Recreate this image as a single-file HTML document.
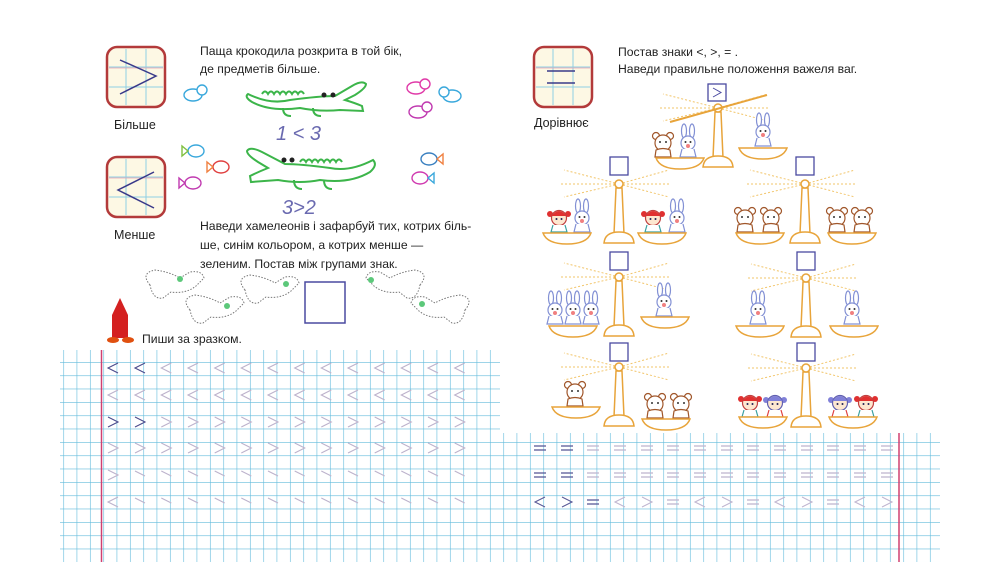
<!DOCTYPE html>
<html><head><meta charset="utf-8"><style>
html,body{margin:0;padding:0;background:#fff;}
svg{display:block;}
text{font-family:"Liberation Sans",sans-serif;}
</style></head><body>
<svg width="1000" height="562" viewBox="0 0 1000 562" xmlns="http://www.w3.org/2000/svg">
<defs>
<pattern id="grid" patternUnits="userSpaceOnUse" x="63.3" y="362" width="13.333" height="13.333">
<path d="M0,0 V13.333 M0,0 H13.333" stroke="#62bbdb" stroke-width="1.2" fill="none"/>
</pattern>
<clipPath id="gclip"><path d="M60,350 H500 V433 H940 V562 H60 Z"/></clipPath>
<g id="scale">
<line x1="0" y1="0" x2="-55" y2="-14" stroke="#f2c56a" stroke-width="1" stroke-dasharray="2,2"/>
<line x1="0" y1="0" x2="-58" y2="0" stroke="#f2c56a" stroke-width="1" stroke-dasharray="2,2"/>
<line x1="0" y1="0" x2="-55" y2="13" stroke="#f2c56a" stroke-width="1" stroke-dasharray="2,2"/>
<line x1="0" y1="0" x2="50" y2="-14" stroke="#f2c56a" stroke-width="1" stroke-dasharray="2,2"/>
<line x1="0" y1="0" x2="50" y2="0" stroke="#f2c56a" stroke-width="1" stroke-dasharray="2,2"/>
<line x1="0" y1="0" x2="50" y2="13" stroke="#f2c56a" stroke-width="1" stroke-dasharray="2,2"/>
<path d="M-3,4 L-5,50 L5,50 L3,4 Z" fill="#fff" stroke="#e8a43a" stroke-width="1.5"/>
<path d="M-15,59 Q-14,48 0,48 Q14,48 15,59 Z" fill="#fff" stroke="#e8a43a" stroke-width="1.5"/>
<circle cx="0" cy="0" r="4" fill="#fff" stroke="#e8a43a" stroke-width="1.5"/>
</g>
<path id="pan" d="M-24,0 H24 Q20,11 0,11 Q-20,11 -24,0 Z" fill="#fff" stroke="#e8a43a" stroke-width="1.5"/>
<g id="bear" fill="#fff" stroke="#a0562a" stroke-width="1.2">
<circle cx="-7" cy="-7" r="3.5"/><circle cx="7" cy="-7" r="3.5"/>
<circle cx="0" cy="0" r="8"/><path d="M-7,7 Q0,4 7,7 L8,14 H-8 Z"/>
<circle cx="-3" cy="-1" r="1" fill="#333" stroke="none"/><circle cx="3" cy="-1" r="1" fill="#333" stroke="none"/>
</g>
<g id="bunny" fill="#fff" stroke="#8290d4" stroke-width="1.2">
<ellipse cx="-4" cy="-12" rx="2.5" ry="7"/><ellipse cx="4" cy="-12" rx="2.5" ry="7"/>
<circle cx="0" cy="0" r="7"/><path d="M-6,6 L-8,14 H8 L6,6"/>
<circle cx="0" cy="3" r="2" fill="#f08080" stroke="none"/>
<circle cx="-2.5" cy="-1" r="1" fill="#333" stroke="none"/><circle cx="2.5" cy="-1" r="1" fill="#333" stroke="none"/>
</g>
<g id="girl" stroke-width="1.2">
<circle cx="-9" cy="-4" r="3" fill="#e03030"/><circle cx="9" cy="-4" r="3" fill="#e03030"/>
<circle cx="0" cy="0" r="7.5" fill="#fde7d0" stroke="#c04040"/>
<path d="M-7.5,-2 Q0,-12 7.5,-2" fill="#e03030"/>
<path d="M-6,7 L-8,14 H8 L6,7" fill="#fff" stroke="#3aa0a0"/>
<circle cx="-2.5" cy="1" r="1" fill="#225"/><circle cx="2.5" cy="1" r="1" fill="#225"/>
</g>
<g id="girlb" stroke-width="1.2">
<circle cx="-9" cy="-3" r="3" fill="#8080d8"/><circle cx="9" cy="-3" r="3" fill="#8080d8"/>
<circle cx="0" cy="0" r="7.5" fill="#fde7d0" stroke="#6060b0"/>
<path d="M-7.5,-2 Q0,-12 7.5,-2" fill="#8080d8"/>
<path d="M-6,7 L-8,14 H8 L6,7" fill="#fff" stroke="#e04040"/>
<circle cx="-2.5" cy="1" r="1" fill="#225"/><circle cx="2.5" cy="1" r="1" fill="#225"/>
</g>
<g id="lt"><polyline points="5,-5 -5,0 5,5" fill="none" stroke-width="1.1"/></g>
<g id="gt"><polyline points="-5,-5 5,0 -5,5" fill="none" stroke-width="1.1"/></g>
<g id="half"><line x1="-5" y1="-4" x2="5" y2="1" stroke-width="1.1"/></g>
<g id="eq"><line x1="-6" y1="-2" x2="6" y2="-2" stroke-width="1.3"/><line x1="-6" y1="2" x2="6" y2="2" stroke-width="1.3"/></g>
<g id="iconbg">
<rect x="0" y="0" width="58" height="60" rx="10" fill="#fdf8e4" stroke="#b33a3a" stroke-width="2.5"/>
<path d="M19,2 V58 M39,2 V58 M2,20 H56 M2,40 H56" stroke="#8fcfe4" stroke-width="1"/>
<path d="M2,21 H56" stroke="#e8a0b0" stroke-width="0.8"/>
</g>
</defs>

<rect x="60" y="350" width="880" height="212" fill="url(#grid)" clip-path="url(#gclip)"/>
<line x1="101.5" y1="350" x2="101.5" y2="562" stroke="#d04070" stroke-width="1.5"/>
<line x1="899" y1="433" x2="899" y2="562" stroke="#d04070" stroke-width="1.5"/>

<g stroke="#4a4a8c"><use href="#lt" x="113" y="368"/><use href="#lt" x="140" y="368"/><use href="#gt" x="113" y="422"/><use href="#gt" x="140" y="422"/></g>
<g stroke="#bdb2cc">
<use href="#lt" x="166.3" y="368"/><use href="#lt" x="193" y="368"/><use href="#lt" x="219.7" y="368"/><use href="#lt" x="246.3" y="368"/><use href="#lt" x="273" y="368"/><use href="#lt" x="299.7" y="368"/><use href="#lt" x="326.3" y="368"/><use href="#lt" x="353" y="368"/><use href="#lt" x="379.7" y="368"/><use href="#lt" x="406.3" y="368"/><use href="#lt" x="433" y="368"/><use href="#lt" x="459.7" y="368"/>
<use href="#lt" x="113" y="395"/><use href="#lt" x="140" y="395"/><use href="#lt" x="166.3" y="395"/><use href="#lt" x="193" y="395"/><use href="#lt" x="219.7" y="395"/><use href="#lt" x="246.3" y="395"/><use href="#lt" x="273" y="395"/><use href="#lt" x="299.7" y="395"/><use href="#lt" x="326.3" y="395"/><use href="#lt" x="353" y="395"/><use href="#lt" x="379.7" y="395"/><use href="#lt" x="406.3" y="395"/><use href="#lt" x="433" y="395"/><use href="#lt" x="459.7" y="395"/>
<use href="#gt" x="166.3" y="422"/><use href="#gt" x="193" y="422"/><use href="#gt" x="219.7" y="422"/><use href="#gt" x="246.3" y="422"/><use href="#gt" x="273" y="422"/><use href="#gt" x="299.7" y="422"/><use href="#gt" x="326.3" y="422"/><use href="#gt" x="353" y="422"/><use href="#gt" x="379.7" y="422"/><use href="#gt" x="406.3" y="422"/><use href="#gt" x="433" y="422"/><use href="#gt" x="459.7" y="422"/>
<use href="#gt" x="113" y="448"/><use href="#gt" x="140" y="448"/><use href="#gt" x="166.3" y="448"/><use href="#gt" x="193" y="448"/><use href="#gt" x="219.7" y="448"/><use href="#gt" x="246.3" y="448"/><use href="#gt" x="273" y="448"/><use href="#gt" x="299.7" y="448"/><use href="#gt" x="326.3" y="448"/><use href="#gt" x="353" y="448"/><use href="#gt" x="379.7" y="448"/><use href="#gt" x="406.3" y="448"/><use href="#gt" x="433" y="448"/><use href="#gt" x="459.7" y="448"/>
<use href="#gt" x="113" y="475"/><use href="#half" x="140" y="475"/><use href="#half" x="166.3" y="475"/><use href="#half" x="193" y="475"/><use href="#half" x="219.7" y="475"/><use href="#half" x="246.3" y="475"/><use href="#half" x="273" y="475"/><use href="#half" x="299.7" y="475"/><use href="#half" x="326.3" y="475"/><use href="#half" x="353" y="475"/><use href="#half" x="379.7" y="475"/><use href="#half" x="406.3" y="475"/><use href="#half" x="433" y="475"/><use href="#half" x="459.7" y="475"/>
<use href="#lt" x="113" y="502"/><use href="#half" x="140" y="502"/><use href="#half" x="166.3" y="502"/><use href="#half" x="193" y="502"/><use href="#half" x="219.7" y="502"/><use href="#half" x="246.3" y="502"/><use href="#half" x="273" y="502"/><use href="#half" x="299.7" y="502"/><use href="#half" x="326.3" y="502"/><use href="#half" x="353" y="502"/><use href="#half" x="379.7" y="502"/><use href="#half" x="406.3" y="502"/><use href="#half" x="433" y="502"/><use href="#half" x="459.7" y="502"/>
</g>

<g stroke="#5a5a98"><use href="#eq" x="540" y="448"/><use href="#eq" x="567" y="448"/><use href="#eq" x="540" y="475"/><use href="#eq" x="567" y="475"/><use href="#lt" x="540" y="502"/><use href="#gt" x="567" y="502"/><use href="#eq" x="593" y="502"/></g>
<g stroke="#c0b6d0">
<use href="#eq" x="593" y="448"/><use href="#eq" x="620" y="448"/><use href="#eq" x="647" y="448"/><use href="#eq" x="673" y="448"/><use href="#eq" x="700" y="448"/><use href="#eq" x="727" y="448"/><use href="#eq" x="753" y="448"/><use href="#eq" x="780" y="448"/><use href="#eq" x="807" y="448"/><use href="#eq" x="833" y="448"/><use href="#eq" x="860" y="448"/><use href="#eq" x="887" y="448"/>
<use href="#eq" x="593" y="475"/><use href="#eq" x="620" y="475"/><use href="#eq" x="647" y="475"/><use href="#eq" x="673" y="475"/><use href="#eq" x="700" y="475"/><use href="#eq" x="727" y="475"/><use href="#eq" x="753" y="475"/><use href="#eq" x="780" y="475"/><use href="#eq" x="807" y="475"/><use href="#eq" x="833" y="475"/><use href="#eq" x="860" y="475"/><use href="#eq" x="887" y="475"/>
<use href="#lt" x="620" y="502"/><use href="#gt" x="647" y="502"/><use href="#eq" x="673" y="502"/><use href="#lt" x="700" y="502"/><use href="#gt" x="727" y="502"/><use href="#eq" x="753" y="502"/><use href="#lt" x="780" y="502"/><use href="#gt" x="807" y="502"/><use href="#eq" x="833" y="502"/><use href="#lt" x="860" y="502"/><use href="#gt" x="887" y="502"/>
</g>

<use href="#iconbg" x="107" y="47"/>
<polyline points="120,60 156,76 120,94" fill="none" stroke="#3a3a8a" stroke-width="1.5"/>
<text x="114" y="129" font-size="12.5" fill="#222">Більше</text>
<use href="#iconbg" x="107" y="157"/>
<polyline points="154,172 118,190 154,208" fill="none" stroke="#3a3a8a" stroke-width="1.5"/>
<text x="114" y="239" font-size="12.5" fill="#222">Менше</text>
<use href="#iconbg" x="534" y="47"/>
<line x1="547" y1="71" x2="575" y2="71" stroke="#3a3a8a" stroke-width="1.5"/>
<line x1="547" y1="83" x2="575" y2="83" stroke="#3a3a8a" stroke-width="1.5"/>
<text x="534" y="127" font-size="12.5" fill="#222">Дорівнює</text>

<g font-size="12.2" fill="#222">
<text x="200" y="55">Паща крокодила розкрита в той бік,</text>
<text x="200" y="73">де предметів більше.</text>
<text x="200" y="230">Наведи хамелеонів і зафарбуй тих, котрих біль-</text>
<text x="200" y="249">ше, синім кольором, а котрих менше —</text>
<text x="200" y="268">зеленим. Постав між групами знак.</text>
<text x="142" y="343">Пиши за зразком.</text>
<text x="618" y="56">Постав знаки &lt;, &gt;, = .</text>
<text x="618" y="73">Наведи правильне положення важеля ваг.</text>
</g>

<g fill="none" stroke="#3cb54a" stroke-width="2">
<path d="M248,94 Q270,105 290,100 Q320,96 335,96 L352,86 Q362,80 366,84 Q366,88 355,95 L345,100 Q355,103 362,106 L363,111 L340,110 Q320,112 300,108 Q270,112 252,102 Q244,97 248,94 Z"/>
<path d="M262,94 q3,-5 6,0 q3,-5 6,0 q3,-5 6,0 q3,-5 6,0 q3,-5 6,0 q3,-5 6,0 q3,-5 6,0"/>
<path d="M283,108 q0,8 8,8 M313,108 q0,8 8,8"/>
<path d="M373,160 Q350,172 330,168 Q300,164 285,164 L262,152 Q250,146 247,151 Q247,155 258,162 L268,168 Q258,172 250,176 L251,182 L278,180 Q300,184 320,180 Q350,184 370,172 Q378,165 373,160 Z"/>
<path d="M300,162 q3,-5 6,0 q3,-5 6,0 q3,-5 6,0 q3,-5 6,0 q3,-5 6,0 q3,-5 6,0 q3,-5 6,0"/>
<path d="M294,180 q0,9 8,9 M324,180 q0,9 8,9"/>
</g>
<g fill="#222"><circle cx="324" cy="95" r="2.5"/><circle cx="333" cy="95" r="2.5"/><circle cx="284" cy="160" r="2.5"/><circle cx="292" cy="160" r="2.5"/></g>
<text x="276" y="140" font-size="20" fill="#6a6ab0" font-style="italic">1 &lt; 3</text>
<text x="282" y="214" font-size="20" fill="#6a6ab0" font-style="italic">3&gt;2</text>

<g fill="#fff" stroke-width="1.4">
<g stroke="#3aa8dc"><ellipse cx="193" cy="95" rx="9" ry="6"/><circle cx="202" cy="90" r="5"/></g>
<g stroke="#e03aa8"><ellipse cx="416" cy="88" rx="9" ry="6"/><circle cx="425" cy="84" r="5"/></g>
<g stroke="#3aa8dc"><ellipse cx="452" cy="96" rx="9" ry="6"/><circle cx="444" cy="92" r="5"/></g>
<g stroke="#c03ab0"><ellipse cx="418" cy="112" rx="9" ry="6"/><circle cx="427" cy="107" r="5"/></g>
</g>
<g fill="#fff" stroke-width="1.4">
<g stroke="#3aa8dc"><ellipse cx="196" cy="151" rx="8" ry="6"/><path d="M188,151 l-6,-5 v10 z" stroke="#80c040"/></g>
<g stroke="#e04040"><ellipse cx="221" cy="167" rx="8" ry="6"/><path d="M213,167 l-6,-5 v10 z" stroke="#f08040"/></g>
<g stroke="#c03ab0"><ellipse cx="193" cy="183" rx="8" ry="6"/><path d="M185,183 l-6,-5 v10 z"/></g>
<g stroke="#3a80c0"><ellipse cx="429" cy="159" rx="8" ry="6"/><path d="M437,159 l6,-5 v10 z" stroke="#f08040"/></g>
<g stroke="#d03ab0"><ellipse cx="420" cy="178" rx="8" ry="6"/><path d="M428,178 l6,-5 v10 z" stroke="#3aa8dc"/></g>
</g>

<g fill="none" stroke="#777" stroke-width="1" stroke-dasharray="1.5,1.5">
<path d="M150,285 q-10,-12 5,-15 q15,2 25,8 l10,-6 q12,-2 14,6 l-8,8 q-10,8 -25,6 l-8,6 q-10,2 -13,-13z"/>
<path d="M190,310 q-10,-12 5,-15 q15,2 25,8 l10,-6 q12,-2 14,6 l-8,8 q-10,8 -25,6 l-8,6 q-10,2 -13,-13z"/>
<path d="M245,290 q-10,-12 5,-15 q15,2 25,8 l10,-6 q12,-2 14,6 l-8,8 q-10,8 -25,6 l-8,6 q-10,2 -13,-13z"/>
<path d="M420,285 q10,-12 -5,-15 q-15,2 -25,8 l-10,-6 q-12,-2 -14,6 l8,8 q10,8 25,6 l8,6 q10,2 13,-13z"/>
<path d="M465,310 q10,-12 -5,-15 q-15,2 -25,8 l-10,-6 q-12,-2 -14,6 l8,8 q10,8 25,6 l8,6 q10,2 13,-13z"/>
</g>
<g fill="#5cc87a"><circle cx="180" cy="279" r="3"/><circle cx="227" cy="306" r="3"/><circle cx="286" cy="284" r="3"/><circle cx="371" cy="280" r="3"/><circle cx="422" cy="304" r="3"/></g>
<rect x="305" y="282" width="40" height="41" fill="none" stroke="#4a4aa0" stroke-width="1.5"/>

<path d="M112,315 L120,298 L128,315 L128,338 L112,338 Z" fill="#d42020"/>
<ellipse cx="113" cy="340" rx="6" ry="3" fill="#e05010"/><ellipse cx="128" cy="340" rx="6" ry="3" fill="#e05010"/>

<use href="#scale" x="718" y="108"/>
<line x1="670" y1="122" x2="767" y2="95" stroke="#e8a43a" stroke-width="2"/>
<rect x="708" y="84" width="18" height="17" fill="#fff" stroke="#4a4aa0" stroke-width="1.3"/>
<polyline points="713,88 721,92.5 713,97" fill="none" stroke="#4a4aa0" stroke-width="1"/>
<use href="#bear" x="663" y="143"/><use href="#bunny" x="688" y="143"/><use href="#pan" x="680" y="158"/>
<use href="#bunny" x="763" y="132"/><use href="#pan" x="763" y="148"/>

<use href="#scale" x="619" y="184"/><rect x="610" y="157" width="18" height="18" fill="#fff" stroke="#4a4aa0" stroke-width="1.3"/>
<use href="#girl" x="559" y="218"/><use href="#bunny" x="582" y="218"/><use href="#pan" x="567" y="233"/>
<use href="#girl" x="653" y="218"/><use href="#bunny" x="677" y="218"/><use href="#pan" x="662" y="233"/>
<use href="#scale" x="805" y="184"/><rect x="796" y="157" width="18" height="18" fill="#fff" stroke="#4a4aa0" stroke-width="1.3"/>
<use href="#bear" x="745" y="218"/><use href="#bear" x="771" y="218"/><use href="#pan" x="760" y="233"/>
<use href="#bear" x="837" y="218"/><use href="#bear" x="862" y="218"/><use href="#pan" x="852" y="233"/>

<use href="#scale" x="619" y="277"/><rect x="610" y="252" width="18" height="18" fill="#fff" stroke="#4a4aa0" stroke-width="1.3"/>
<use href="#bunny" x="555" y="310"/><use href="#bunny" x="573" y="310"/><use href="#bunny" x="591" y="310"/><use href="#pan" x="573" y="326"/>
<use href="#bunny" x="664" y="302"/><use href="#pan" x="665" y="317"/>
<use href="#scale" x="806" y="278"/><rect x="797" y="252" width="18" height="18" fill="#fff" stroke="#4a4aa0" stroke-width="1.3"/>
<use href="#bunny" x="758" y="310"/><use href="#pan" x="760" y="326"/>
<use href="#bunny" x="852" y="310"/><use href="#pan" x="854" y="326"/>

<use href="#scale" x="619" y="367"/><rect x="610" y="343" width="18" height="18" fill="#fff" stroke="#4a4aa0" stroke-width="1.3"/>
<use href="#bear" x="575" y="392"/><use href="#pan" x="576" y="407"/>
<use href="#bear" x="655" y="404"/><use href="#bear" x="681" y="404"/><use href="#pan" x="666" y="419"/>
<use href="#scale" x="806" y="368"/><rect x="797" y="343" width="18" height="18" fill="#fff" stroke="#4a4aa0" stroke-width="1.3"/>
<use href="#girl" x="750" y="403"/><use href="#girlb" x="775" y="403"/><use href="#pan" x="763" y="417"/>
<use href="#girlb" x="840" y="403"/><use href="#girl" x="866" y="403"/><use href="#pan" x="853" y="417"/>
</svg>
</body></html>
